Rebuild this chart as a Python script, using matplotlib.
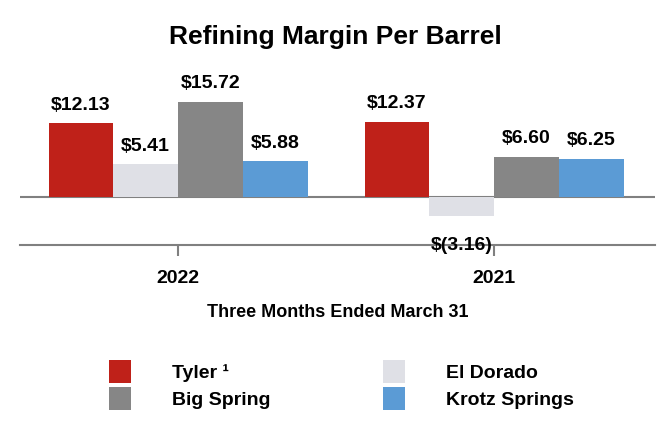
import matplotlib.pyplot as plt
import matplotlib.font_manager as fm
import numpy as np

periods = ["2022", "2021"]
refineries = ["Tyler \u00b9", "El Dorado", "Big Spring", "Krotz Springs"]
margins = {
    "Tyler \u00b9": [12.13, 12.37],
    "El Dorado": [5.41, -3.16],
    "Big Spring": [15.72, 6.60],
    "Krotz Springs": [5.88, 6.25],
}
colors = ["#BF2119", "#DFE0E6", "#868686", "#5B9BD5"]

names = {f.name for f in fm.fontManager.ttflist}
fam = "Liberation Sans Narrow" if "Liberation Sans Narrow" in names else "Liberation Sans"
plt.rcParams["font.family"] = [fam, "DejaVu Sans"]
plt.rcParams["font.weight"] = "bold"

fig = plt.figure(figsize=(6.7, 4.4), dpi=100)
ax = fig.add_axes([0.03, 0.443, 0.948, 0.421])

x = np.arange(len(periods))
w = 0.205
handles = []
for i, name in enumerate(refineries):
    xs = x + (i - 1.5) * w
    bars = ax.bar(xs, margins[name], w, color=colors[i], label=name, zorder=2)
    handles.append(bars)
    for xi, v in zip(xs, margins[name]):
        if v >= 0:
            ax.annotate(f"${v:.2f}", (xi, v), xytext=(0, 7), textcoords="offset points",
                        ha="center", va="bottom", fontsize=14, fontweight="bold")
        else:
            ax.annotate(f"$({abs(v):.2f})", (xi, v), xytext=(0, -15), textcoords="offset points",
                        ha="center", va="top", fontsize=14, fontweight="bold")

ax.axhline(0, color="#808080", lw=1.5, zorder=1)
ax.set_xlim(-0.5, 1.51)
ax.set_ylim(-7.9, 22.6)
ax.set_yticks([])
for s in ["left", "right", "top"]:
    ax.spines[s].set_visible(False)
ax.spines["bottom"].set_color("#808080")
ax.spines["bottom"].set_linewidth(1.5)
ax.set_xticks(x)
ax.set_xticklabels(periods, fontsize=14, fontweight="bold")
ax.tick_params(axis="x", length=8, width=1.5, color="#808080", pad=10)
ax.set_xlabel("Three Months Ended March 31", fontsize=13, fontweight="bold", labelpad=12)

fig.suptitle("Refining Margin Per Barrel", fontsize=19, fontweight="bold", y=0.944)

order = [0, 2, 1, 3]
fig.legend([handles[k] for k in order], [refineries[k] for k in order], ncol=2,
           loc="upper left", bbox_to_anchor=(0.136, 0.222), frameon=False,
           fontsize=14, handlelength=1.15, handleheight=1.45, handletextpad=2.1,
           labelspacing=0.2, columnspacing=5.8)

fig.savefig("out.png", dpi=100)
